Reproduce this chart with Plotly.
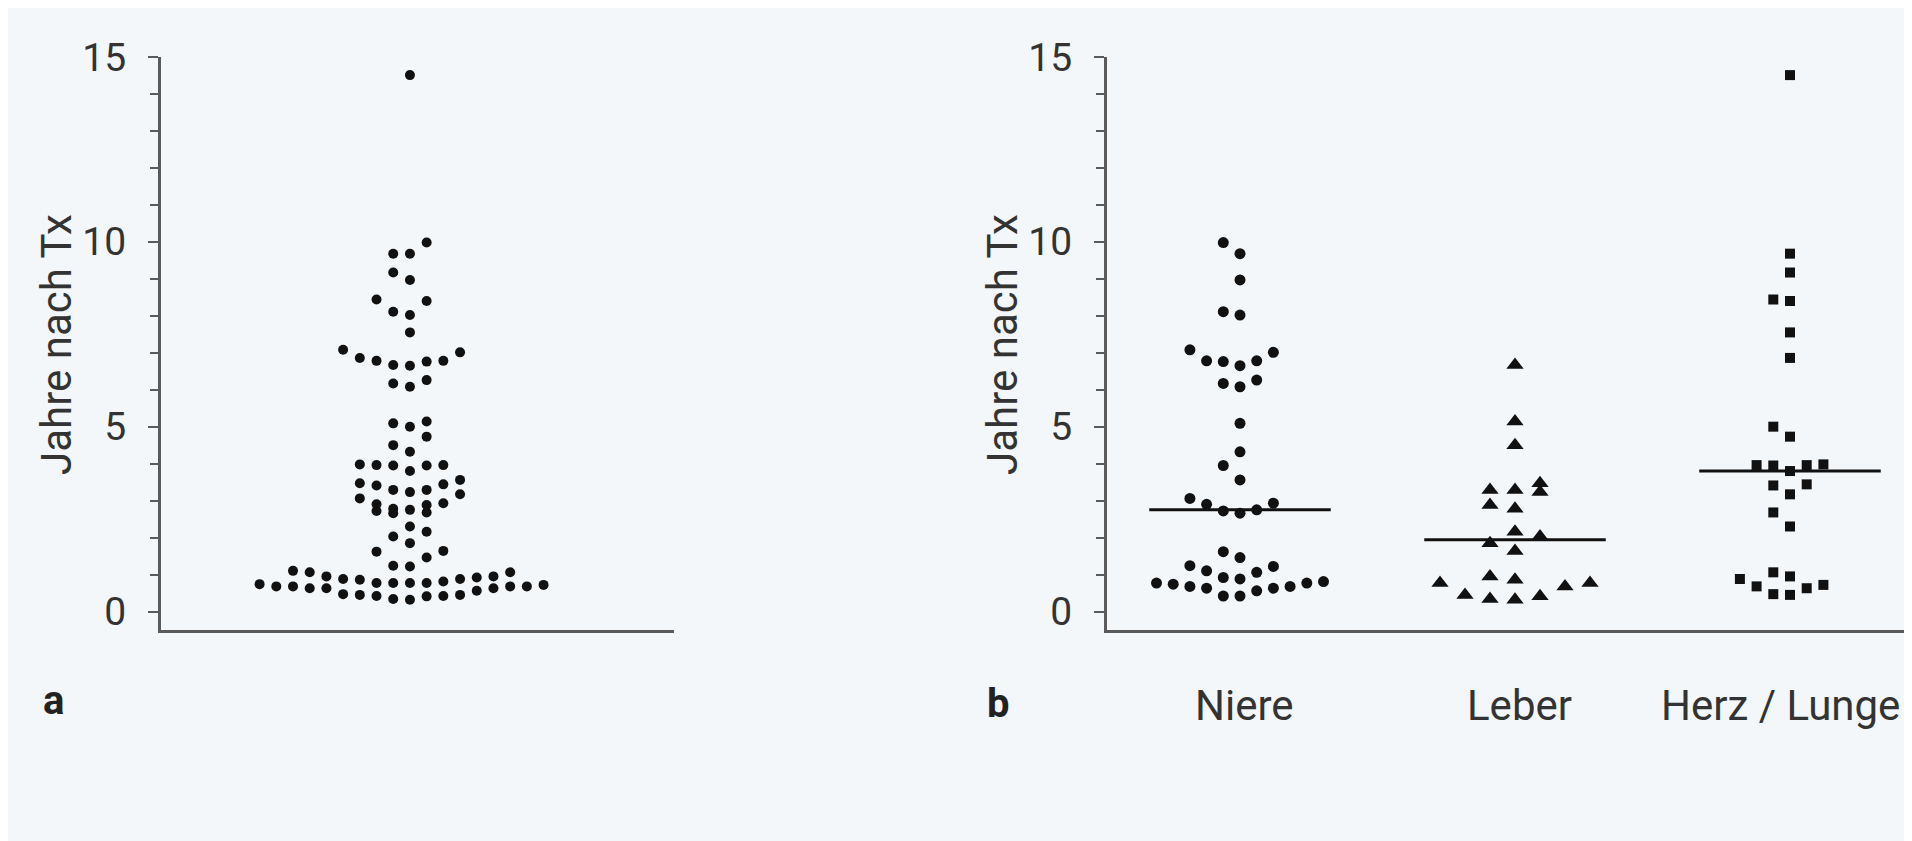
import numpy as np
import plotly.graph_objects as go

# ---------------- data (years after transplantation) ----------------
categories = ["Niere", "Leber", "Herz / Lunge"]

niere = [9.98, 9.68, 8.97, 8.11, 8.02, 7.08, 7.01, 6.78, 6.78, 6.76, 6.65,
         6.26, 6.17, 6.08, 5.09, 4.32, 3.95, 3.56, 3.06, 2.93, 2.90, 2.75,
         2.72, 2.66, 1.62, 1.46, 1.24, 1.22, 1.10, 1.06, 0.92, 0.88, 0.81,
         0.77, 0.77, 0.74, 0.68, 0.68, 0.63, 0.63, 0.56, 0.42, 0.42]

leber = [6.67, 5.14, 4.50, 3.47, 3.29, 3.29, 3.23, 2.88, 2.78, 2.16, 2.03,
         1.85, 1.64, 0.95, 0.86, 0.77, 0.77, 0.68, 0.45, 0.41, 0.34, 0.32]

herz_lunge = [14.51, 9.68, 9.17, 8.44, 8.40, 7.55, 6.86, 5.00, 4.73, 3.98,
              3.96, 3.96, 3.95, 3.80, 3.44, 3.41, 3.17, 2.68, 2.30, 1.06,
              0.95, 0.88, 0.72, 0.68, 0.63, 0.47, 0.45]

alle = niere + leber + herz_lunge   # panel a: all patients combined

y_ticks = [0, 5, 10, 15]
y_title = "Jahre nach Tx"

# ---------------- styling ----------------
BG = "#F4F7FA"
AX = "#5a5a5a"
TXT = "#333333"
FONT = "Roboto"
W, H = 1912, 841
OFF_X, OFF_Y = 5, 8  # page offset of the plot inside the browser


def fx(p):
    return (p - OFF_X) / W


def fy(p):
    return 1 - (p - OFF_Y) / H


def swarm_slots(values, bin_width):
    """Prism-like dot plot: values are grouped in bins of bin_width
    (starting from the lowest value); inside each bin the points are
    spread alternately 0, -1, +1, -2, +2 ... columns."""
    vals = np.asarray(values, dtype=float)
    order = np.argsort(vals, kind="stable")
    slots = np.zeros(len(vals))
    start, k = None, 0
    for idx in order:
        v = vals[idx]
        if start is None or v - start >= bin_width:
            start, k = v, 0
        slots[idx] = 0 if k == 0 else ((k + 1) // 2) * (-1 if k % 2 else 1)
        k += 1
    return slots


fig = go.Figure()

ya_dom = [fy(630), fy(57)]
xa_dom = [fx(158), fx(671)]
xb_dom = [fx(1104), 1.0]
px_per_unit = 275.0
col_circle = 16.7 / px_per_unit
col_tri = 25.0 / px_per_unit
xb_left_px = 1237 - 1104
xb_width_px = W - fx(1104) * W

# ---- panel a ----
sa = swarm_slots(alle, 0.44)
fig.add_trace(go.Scatter(
    x=sa * col_circle, y=alle, mode="markers", xaxis="x", yaxis="y",
    marker=dict(symbol="circle", size=10, color="#111111"),
    showlegend=False, hoverinfo="y"))

# ---- panel b ----
groups = [
    (niere, "circle", 11, col_circle, 0.44),
    (leber, "triangle-up", 15, col_tri, 0.50),
    (herz_lunge, "square", 10, col_circle, 0.44),
]
for i, (vals, sym, size, col, bw) in enumerate(groups):
    s = swarm_slots(vals, bw)
    fig.add_trace(go.Scatter(
        x=i + s * col, y=vals, mode="markers", xaxis="x2", yaxis="y2",
        marker=dict(symbol=sym, size=size, color="#111111"),
        showlegend=False, hoverinfo="y", name=categories[i]))
    med = float(np.median(vals))
    fig.add_trace(go.Scatter(
        x=[i - 0.33, i + 0.33], y=[med, med], mode="lines",
        xaxis="x2", yaxis="y2", line=dict(color="#111111", width=3),
        showlegend=False, hoverinfo="skip"))

yax_common = dict(
    range=[-0.5, 15], domain=ya_dom, tickvals=y_ticks,
    ticks="outside", ticklen=10, tickwidth=2, tickcolor=AX,
    minor=dict(dtick=1, ticks="outside", ticklen=8, tickwidth=2, tickcolor=AX),
    showline=True, linecolor=AX, linewidth=3,
    showgrid=False, zeroline=False, automargin=False,
    tickfont=dict(family=FONT, size=39, color=TXT),
    ticklabelstandoff=14,
)

# category labels (under the x axis of panel b)
label_shift = [4, 4, -10]
cat_annotations = [
    dict(text=c, x=i, xref="x2", y=fy(705), yref="paper", xshift=label_shift[i],
         showarrow=False, xanchor="center", yanchor="middle",
         font=dict(family=FONT, size=42, color=TXT))
    for i, c in enumerate(categories)
]

fig.update_layout(
    width=W, height=H,
    paper_bgcolor=BG, plot_bgcolor=BG,
    margin=dict(l=0, r=0, t=0, b=0, pad=0, autoexpand=False),
    xaxis=dict(domain=xa_dom, range=[-0.905, 0.96], anchor="y",
               showticklabels=False, ticks="", showline=True, automargin=False,
               linecolor=AX, linewidth=3, showgrid=False, zeroline=False),
    yaxis=dict(anchor="x", **yax_common),
    xaxis2=dict(domain=xb_dom,
                range=[-xb_left_px / px_per_unit,
                       (xb_width_px - xb_left_px) / px_per_unit],
                anchor="y2", showticklabels=False, ticks="", automargin=False,
                showline=True, linecolor=AX, linewidth=3,
                showgrid=False, zeroline=False),
    yaxis2=dict(anchor="x2", **yax_common),
    annotations=cat_annotations + [
        dict(text=y_title, x=fx(54), y=fy(345), xref="paper", yref="paper",
             textangle=-90, showarrow=False, xanchor="center", yanchor="middle",
             font=dict(family=FONT, size=42, color=TXT)),
        dict(text=y_title, x=fx(1000), y=fy(345), xref="paper", yref="paper",
             textangle=-90, showarrow=False, xanchor="center", yanchor="middle",
             font=dict(family=FONT, size=42, color=TXT)),
        dict(text="<b>a</b>", x=fx(50), y=fy(700), xref="paper", yref="paper",
             showarrow=False, xanchor="center", yanchor="middle",
             font=dict(family=FONT, size=40, color="#222222")),
        dict(text="<b>b</b>", x=fx(995), y=fy(703), xref="paper", yref="paper",
             showarrow=False, xanchor="center", yanchor="middle",
             font=dict(family=FONT, size=40, color="#222222")),
    ],
)

fig.write_html("out.html")
